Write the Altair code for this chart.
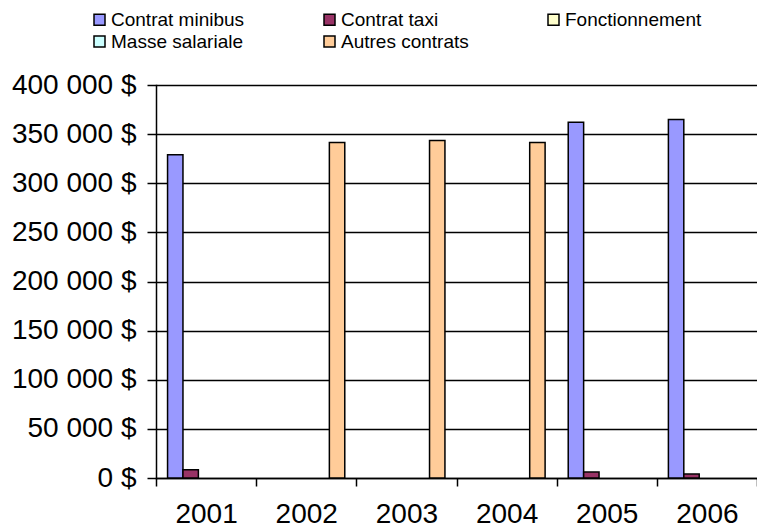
import altair as alt
import pandas as pd

years = ["2001", "2002", "2003", "2004", "2005", "2006"]
series = ["Contrat minibus", "Contrat taxi", "Fonctionnement", "Masse salariale", "Autres contrats"]
colors = ["#9999FF", "#993366", "#FFFFCC", "#CCFFFF", "#FFCC99"]

contrat_minibus = [329000, None, None, None, 362000, 365000]
contrat_taxi = [8400, None, None, None, 6000, 4000]
fonctionnement = [None, None, None, None, None, None]
masse_salariale = [None, None, None, None, None, None]
autres_contrats = [None, 341500, 343500, 341500, None, None]

values = [contrat_minibus, contrat_taxi, fonctionnement, masse_salariale, autres_contrats]
rows = []
for s, vals in zip(series, values):
    for y, v in zip(years, vals):
        if v is not None:
            rows.append({"year": y, "series": s, "value": v})
df = pd.DataFrame(rows)

FONT = "Liberation Sans"

chart = alt.Chart(df).mark_bar(stroke="black", strokeWidth=1.5).encode(
    x=alt.X("year:N", sort=years, title=None,
            scale=alt.Scale(domain=years, paddingInner=0, paddingOuter=0),
            axis=alt.Axis(labelAngle=0, tickBand="extent", tickSize=8, tickColor="black",
                          tickWidth=1.5, domainColor="black", domainWidth=1.5,
                          labelFont=FONT, labelFontSize=28, labelColor="black",
                          labelPadding=14, labelBaseline="top", grid=False)),
    xOffset=alt.XOffset("series:N", sort=series,
                        scale=alt.Scale(domain=series, paddingInner=0, paddingOuter=0.75)),
    y=alt.Y("value:Q", title=None,
            scale=alt.Scale(domain=[0, 400000], nice=False),
            axis=alt.Axis(values=list(range(0, 400001, 50000)), tickSize=9, tickColor="black",
                          tickWidth=1.5, domainColor="black", domainWidth=1.5,
                          gridColor="black", gridWidth=1.5, gridOpacity=1,
                          labelFont=FONT, labelFontSize=28, labelColor="black",
                          labelPadding=11,
                          labelExpr="replace(format(datum.value, ','), regexp(',', 'g'), ' ') + ' $'")),
    color=alt.Color("series:N", sort=series,
                    scale=alt.Scale(domain=series, range=colors),
                    legend=alt.Legend(title=None, orient="none", legendX=-66, legendY=-75,
                                      direction="horizontal", columns=3, columnPadding=75,
                                      rowPadding=2, symbolType="square", symbolSize=121,
                                      symbolStrokeColor="black", symbolStrokeWidth=1.5,
                                      symbolOpacity=1, labelFont=FONT, labelFontSize=19,
                                      labelColor="black", labelOffset=2, values=series)),
).properties(
    width=601,
    height=393,
    autosize=alt.AutoSizeParams(type="none"),
    padding={"left": 148, "top": 77, "right": 0, "bottom": 50},
).configure_view(stroke=None).configure_axis(domainCap="square")

chart.save("out.html", embed_options={"renderer": "svg", "actions": False})
